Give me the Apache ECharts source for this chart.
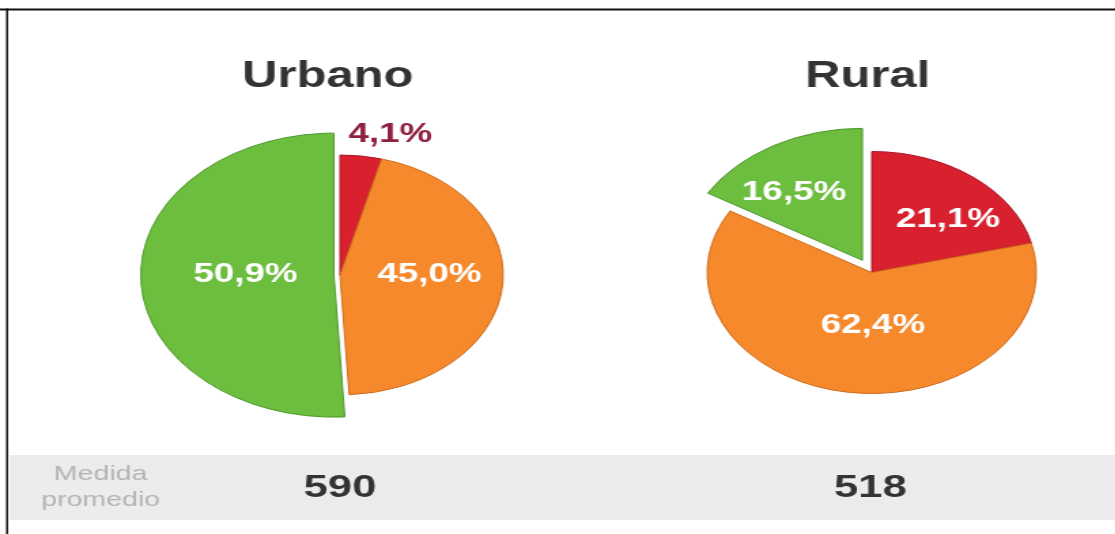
<!DOCTYPE html>
<html>
<head>
	<meta charset="utf-8">
	<title>Medida promedio</title>
	<script src="https://cdn.jsdelivr.net/npm/echarts@6/dist/echarts.min.js"></script>
	<style>
		body { margin: 0; background: #fff; overflow: hidden; }
		/* the original picture is stretched sideways, so the whole chart is too */
		#main { width: 820px; height: 534px; transform: scaleX(1.36); transform-origin: 0 0; }
	</style>
</head>
<body>
	<div id="main"></div>
	<script>
		// datos
		var zonas = ['Urbano', 'Rural'];
		var categorias = ['rojo', 'naranja', 'verde'];
		var urbano = [4.1, 45.0, 50.9];
		var rural = [21.1, 62.4, 16.5];
		var promedio = [590, 518];
		var etiquetaPromedio = 'Medida\npromedio';

		var colores = ['#d9202f', '#f5892b', '#6dbd3f'];
		var bordes = ['#a8182a', '#d06c1c', '#4f9a2e'];
		var fuente = '"Liberation Sans", Arial, sans-serif';

		// layout per pie (unscaled px)
		var layout = [{
			center: [250, 275], r: 120, rVerde: 142, offset: 4.5,
			titleX: 241, numX: 250, rojoFuera: true,
			shift: [[29, -78], [3, -7], [9, -3]]
		}, {
			center: [641, 272.5], r: 121, rVerde: 132, offset: 14,
			titleX: 638, numX: 640, rojoFuera: false,
			shift: [[17, -3], [10, -10], [-16, -8]]
		}];

		function fmt(p) {
			return p.value.toFixed(1).replace('.', ',') + '%';
		}

		// parte = 'base' draws red + orange, 'verde' draws only the green slice
		function makeData(vals, lay, parte) {
			return vals.map(function (v, i) {
				var show = parte === 'base' ? i < 2 : i === 2;
				var item = {
					name: categorias[i],
					value: v,
					selected: parte === 'verde' && i === 2,
					itemStyle: show ? { color: colores[i], borderColor: bordes[i], borderWidth: 1 } : { color: 'rgba(0,0,0,0)', borderWidth: 0 },
					label: { show: show }
				};
				// small red slice: label sits above the pie in dark red
				if (i === 0 && lay.rojoFuera) item.label.color = '#8e2040';
				return item;
			});
		}

		function makeSeries(vals, lay, parte) {
			return {
				type: 'pie',
				silent: true,
				animation: false,
				center: lay.center,
				radius: parte === 'base' ? lay.r : lay.rVerde,
				startAngle: 90,
				clockwise: true,
				avoidLabelOverlap: false,
				selectedMode: 'single',
				selectedOffset: lay.offset,
				label: {
					position: 'inside',
					formatter: fmt,
					color: '#fff',
					fontWeight: 'bold',
					fontSize: 27,
					fontFamily: fuente
				},
				labelLine: { show: false },
				labelLayout: function (params) {
					var d = lay.shift[params.dataIndex];
					return { dx: d[0], dy: d[1] };
				},
				emphasis: { disabled: true },
				data: makeData(vals, lay, parte)
			};
		}

		var valores = [urbano, rural];
		var series = [];
		var titulos = [];
		var graficos = [];

		// fondo de la franja inferior y borde
		graficos.push({
			type: 'rect', z: 0,
			shape: { x: 7, y: 455, width: 813, height: 65 },
			style: { fill: '#ececee' }
		});
		graficos.push({
			type: 'line',
			shape: { x1: 0, y1: 9.5, x2: 820, y2: 9.5 },
			style: { stroke: '#111', lineWidth: 2 }
		});
		graficos.push({
			type: 'line',
			shape: { x1: 5.2, y1: 8.5, x2: 5.2, y2: 534 },
			style: { stroke: '#111', lineWidth: 1.5 }
		});
		graficos.push({
			type: 'text', x: 74, y: 487,
			style: {
				text: etiquetaPromedio, textAlign: 'center', textVerticalAlign: 'middle',
				fill: '#b4b4b4', font: '21px ' + fuente, lineHeight: 26
			}
		});

		for (var i = 0; i < zonas.length; i++) {
			var lay = layout[i];
			series.push(makeSeries(valores[i], lay, 'base'));
			series.push(makeSeries(valores[i], lay, 'verde'));
			titulos.push({
				text: zonas[i],
				left: lay.titleX,
				top: 59,
				padding: 0,
				textAlign: 'center',
				textStyle: { fontSize: 36, fontWeight: 'bold', color: '#333', fontFamily: fuente }
			});
			graficos.push({
				type: 'text', x: lay.numX, y: 488,
				style: {
					text: String(promedio[i]), textAlign: 'center', textVerticalAlign: 'middle',
					fill: '#333', font: 'bold 32px ' + fuente
				}
			});
		}

		var myChart = echarts.init(document.getElementById('main'));
		myChart.setOption({
			backgroundColor: '#fff',
			animation: false,
			title: titulos,
			graphic: graficos,
			series: series
		});
	</script>
</body>
</html>
